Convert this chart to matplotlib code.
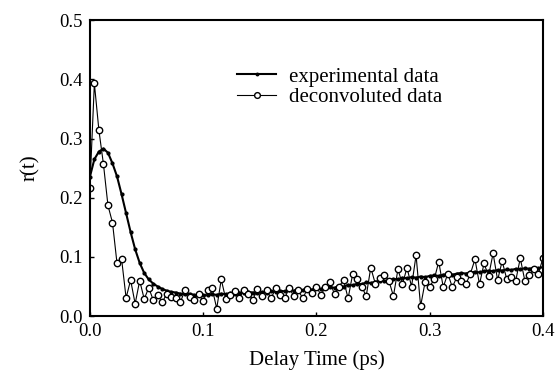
import numpy as np
import matplotlib
matplotlib.use("Agg")
import matplotlib.pyplot as plt

# sampling grid of the measurement (ps), 4 fs steps
delay = np.round(np.arange(101) * 0.004, 3)

experimental = [
    0.235, 0.265, 0.278, 0.283, 0.276, 0.258, 0.236, 0.206, 0.174, 0.142,
    0.113, 0.090, 0.073, 0.062, 0.055, 0.050, 0.046, 0.043, 0.041, 0.040,
    0.038, 0.037, 0.038, 0.036, 0.035, 0.036, 0.035, 0.037, 0.036, 0.038,
    0.037, 0.039, 0.038, 0.040, 0.039, 0.041, 0.040, 0.039, 0.041, 0.040,
    0.042, 0.041, 0.043, 0.042, 0.044, 0.043, 0.045, 0.044, 0.046, 0.045,
    0.047, 0.046, 0.048, 0.049, 0.048, 0.051, 0.050, 0.053, 0.052, 0.055,
    0.054, 0.057, 0.056, 0.058, 0.060, 0.059, 0.061, 0.063, 0.062, 0.065,
    0.064, 0.066, 0.065, 0.067, 0.066, 0.068, 0.069, 0.068, 0.070, 0.071,
    0.070, 0.072, 0.073, 0.072, 0.074, 0.075, 0.074, 0.076, 0.077, 0.076,
    0.078, 0.077, 0.079, 0.078, 0.080, 0.079, 0.081, 0.080, 0.082, 0.081,
    0.083,
]

deconvoluted = [
    0.216, 0.393, 0.314, 0.257, 0.187, 0.158, 0.089, 0.097, 0.031, 0.061,
    0.021, 0.060, 0.029, 0.048, 0.027, 0.035, 0.024, 0.038, 0.033, 0.030,
    0.024, 0.044, 0.032, 0.028, 0.038, 0.025, 0.044, 0.047, 0.013, 0.062,
    0.029, 0.035, 0.042, 0.030, 0.044, 0.038, 0.028, 0.046, 0.034, 0.045,
    0.030, 0.047, 0.036, 0.030, 0.048, 0.034, 0.044, 0.030, 0.046, 0.040,
    0.050, 0.036, 0.049, 0.058, 0.037, 0.050, 0.061, 0.030, 0.071, 0.062,
    0.050, 0.034, 0.082, 0.055, 0.065, 0.070, 0.060, 0.034, 0.079, 0.054,
    0.082, 0.050, 0.103, 0.017, 0.058, 0.050, 0.062, 0.092, 0.049, 0.072,
    0.049, 0.066, 0.060, 0.054, 0.072, 0.096, 0.054, 0.089, 0.068, 0.106,
    0.061, 0.093, 0.063, 0.066, 0.060, 0.098, 0.060, 0.070, 0.080, 0.072,
    0.098,
]

plt.rcParams["font.family"] = ["Liberation Serif", "DejaVu Serif"]

fig = plt.figure(figsize=(5.58, 3.72), dpi=100)
ax = fig.add_axes([0.161, 0.150, 0.812, 0.796])

ax.plot(delay, experimental, color="black", linewidth=1.5, marker="o",
        markersize=2.0, label="experimental data")
ax.plot(delay, deconvoluted, color="black", linewidth=0.8, marker="o",
        markersize=4.6, markerfacecolor="white", markeredgewidth=1.0,
        label="deconvoluted data")

ax.set_xlim(0, 0.4)
ax.set_ylim(0, 0.5)
ax.set_xticks([0.0, 0.1, 0.2, 0.3, 0.4])
ax.set_yticks([0.0, 0.1, 0.2, 0.3, 0.4, 0.5])
ax.set_xticklabels(["0.0", "0.1", "0.2", "0.3", "0.4"])
ax.set_yticklabels(["0.0", "0.1", "0.2", "0.3", "0.4", "0.5"])
ax.tick_params(direction="in", length=3, width=1, labelsize=13.5)
ax.tick_params(axis="x", pad=5)
ax.tick_params(axis="y", pad=5)
for s in ax.spines.values():
    s.set_linewidth(1.5)

ax.set_xlabel("Delay Time (ps)", fontsize=15, labelpad=7)
ax.set_ylabel("r(t)", fontsize=15, labelpad=14)

ax.legend(loc="upper left", bbox_to_anchor=(0.283, 0.905), frameon=False,
          fontsize=15, handlelength=1.9, handletextpad=0.6, labelspacing=0.05,
          markerscale=0.9)

fig.savefig("out.png", dpi=100)
